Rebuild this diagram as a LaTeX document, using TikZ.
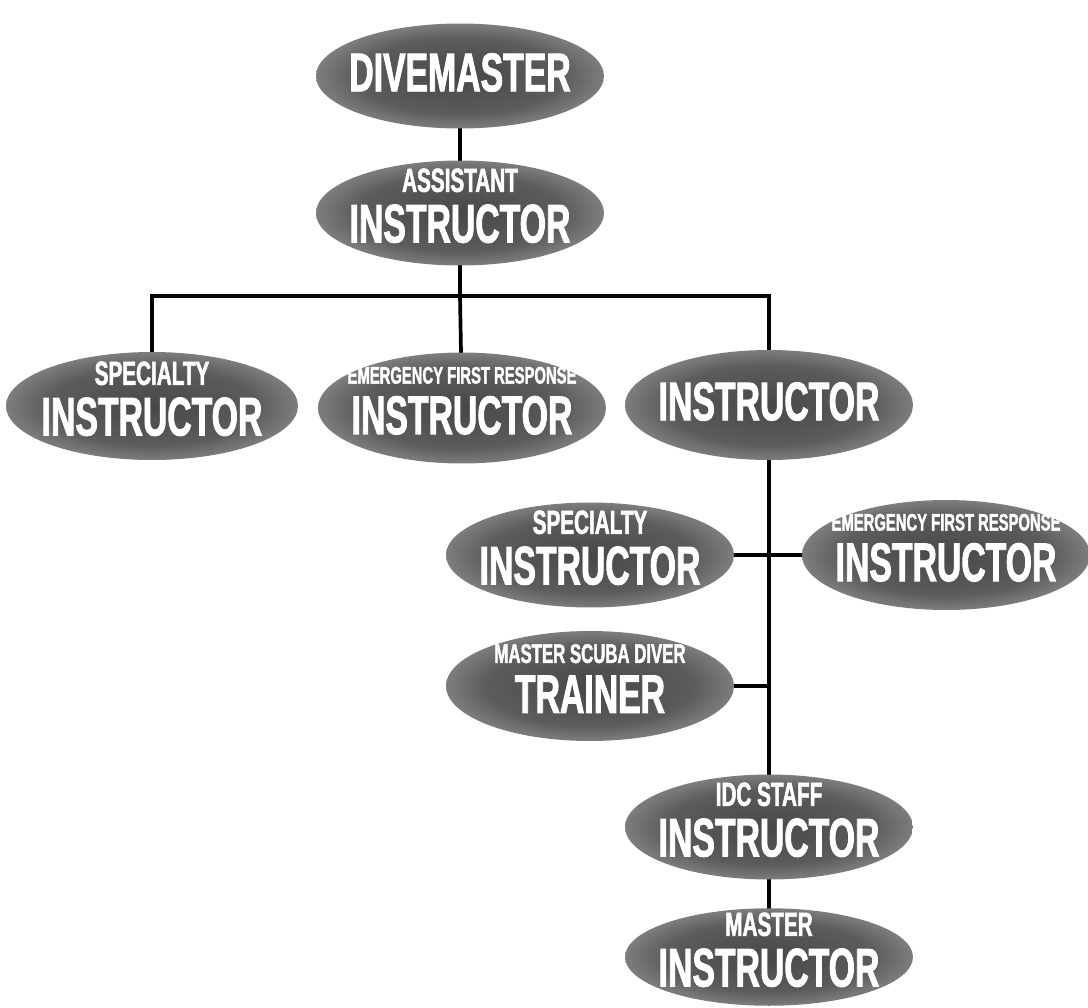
\documentclass[tikz,border=0pt]{standalone}
\usepackage{fontspec}
\newfontfamily\condfont{Liberation Sans}[FakeStretch=0.62,FakeBold=1.6]
\usetikzlibrary{shapes.geometric,backgrounds}
\pgfdeclareradialshading{ovalshade}{\pgfpoint{0bp}{0bp}}{color(0bp)=(black!72); color(18bp)=(black!64); color(33bp)=(black!36); color(43bp)=(black!55); color(50bp)=(black!88)}
\tikzset{
  badge/.style={ellipse, minimum width=5.76cm, minimum height=2.1cm, shading=ovalshade,
    text=white, font=\condfont\bfseries, align=center, inner xsep=-0.35cm, inner ysep=-0.5cm,
    text depth=0.3cm},
  link/.style={line width=2.1pt, draw=black}
}
\newcommand\smline[1]{{\fontsize{19}{20}\selectfont #1}}
\newcommand\tnline[1]{{\fontsize{13.6}{14}\selectfont #1}}
\newcommand\mdline[1]{{\fontsize{15.4}{16}\selectfont #1}}
\newcommand\bgline[1]{{\fontsize{31}{23}\selectfont #1}}
\newcommand\gap{\\[6pt]}
\begin{document}
\begin{tikzpicture}[x=0.02cm,y=-0.02cm]
\useasboundingbox (0,0) rectangle (1088,1007);
\node[badge, text depth=0.15cm] (dm) at (460,76) {\bgline{DIVEMASTER}};
\node[badge] (ai) at (460,213) {\smline{ASSISTANT}\gap\bgline{INSTRUCTOR}};
\node[badge, minimum width=5.84cm, minimum height=2.16cm] (spl) at (152,406) {\smline{SPECIALTY}\gap\bgline{INSTRUCTOR}};
\node[badge, minimum height=2.22cm] (efl) at (462,408) {\tnline{EMERGENCY FIRST RESPONSE}\gap\bgline{INSTRUCTOR}};
\node[badge, minimum height=2.2cm, text depth=0.15cm] (ins) at (769,405) {\bgline{INSTRUCTOR}};
\node[badge] (spr) at (590,555) {\smline{SPECIALTY}\gap\bgline{INSTRUCTOR}};
\node[badge, minimum height=2.2cm] (efr) at (946,555) {\tnline{EMERGENCY FIRST RESPONSE}\gap\bgline{INSTRUCTOR}};
\node[badge, minimum height=2.2cm] (msd) at (590,686) {\mdline{MASTER SCUBA DIVER}\gap\bgline{TRAINER}};
\node[badge] (idc) at (769,827) {\smline{IDC STAFF}\gap\bgline{INSTRUCTOR}};
\node[badge, minimum height=1.95cm] (mi) at (769,957) {\smline{MASTER}\gap\bgline{INSTRUCTOR}};
\begin{scope}[on background layer]
  \coordinate (bus) at (460,296);
  \draw[link] (dm.center) -- (ai.center);
  \draw[link] (ai.center) -- (bus);
  \draw[link] (spl.center) |- (bus) -| (ins.center);
  \draw[link] (bus) -- (efl.center);
  \draw[link] (ins.center) -- (mi.center);
  \draw[link] (spr.center) -- (efr.center);
  \draw[link] (msd.center) -- (msd.center -| ins.center);
\end{scope}
\end{tikzpicture}
\end{document}
